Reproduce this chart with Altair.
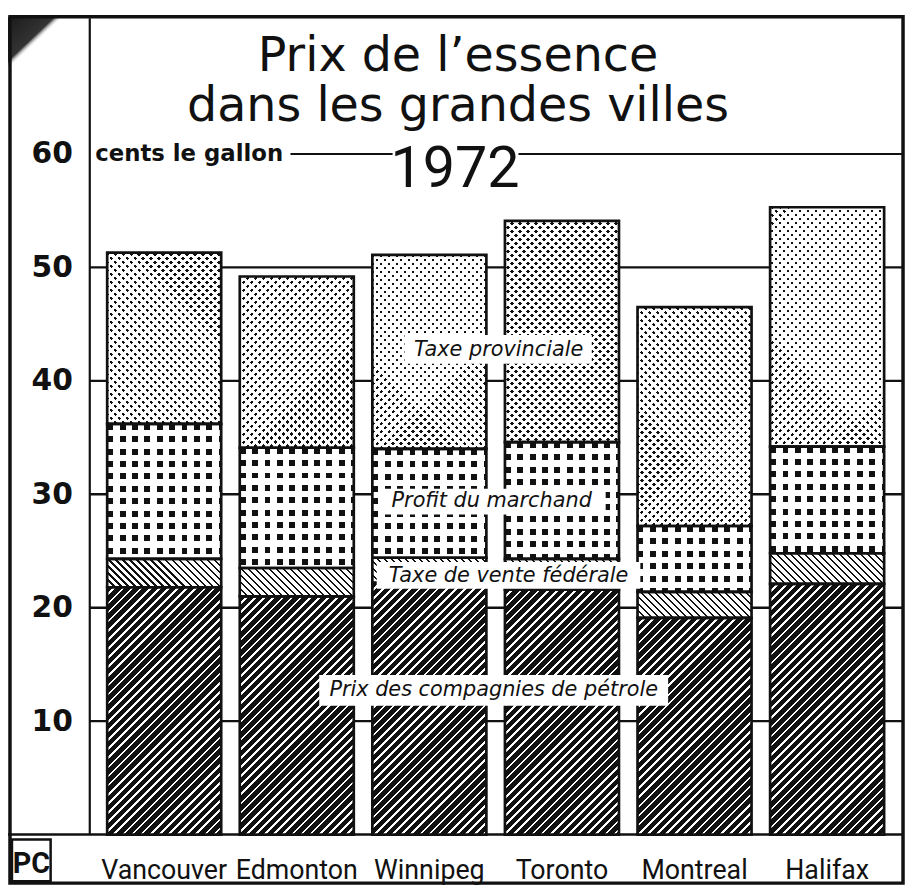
import math
import altair as alt

# ---------------- data ----------------
cities = ["Vancouver", "Edmonton", "Winnipeg", "Toronto", "Montreal", "Halifax"]
prix_compagnies = [21.8, 21.0, 22.2, 21.6, 19.1, 22.1]   # Prix des compagnies de pétrole
taxe_federale = [2.5, 2.5, 2.2, 2.7, 2.3, 2.7]           # Taxe de vente fédérale
profit_marchand = [11.9, 10.6, 9.6, 10.3, 5.8, 9.4]      # Profit du marchand
taxe_provinciale = [15.1, 15.1, 17.1, 19.5, 19.3, 21.1]  # Taxe provinciale
y_ticks = [10, 20, 30, 40, 50, 60]
grid_values = [10, 20, 30, 40, 50]

# ---------------- geometry ----------------
W, H = 820, 824
YMAX = 72
PAD_IN, PAD_OUT = 0.14, 0.135
PX = H / YMAX
STEP = W / (len(cities) - PAD_IN + 2 * PAD_OUT)
BW = STEP * (1 - PAD_IN)

INK = "#111111"
PAPER = "#ffffff"
CLEAR = "rgba(255,255,255,0)"
NARROW = "Roboto, 'Noto Sans', sans-serif"


def stripes(w, h, kind, period, ink, ink_w, paper):
    if kind == "h":
        x1, y1, x2, y2, L = 0, 0, 0, 1, h
    elif kind == "v":
        x1, y1, x2, y2, L = 0, 0, 1, 0, w
    else:
        k = (w + h) / (w * w + h * h)
        L = (w + h) / math.sqrt(2)
        if kind == "fw":
            x1, y1, x2, y2 = 0, 0, w * k, h * k
        else:
            x1, y1, x2, y2 = 0, 1, w * k, 1 - h * k
    stops = []
    j = 0
    while True:
        a = j * period / L
        if a >= 1:
            break
        b = min((j * period + ink_w) / L, 1)
        c = min((j + 1) * period / L, 1)
        for off, col in ((a, ink), (b, ink), (b, paper), (c, paper)):
            stops.append({"offset": round(off, 5), "color": col})
        j += 1
    return {"gradient": "linear", "x1": round(x1, 5), "y1": round(y1, 5),
            "x2": round(x2, 5), "y2": round(y2, 5), "stops": stops}


def pattern(name, w, h):
    if name == "compagnies":
        return stripes(w, h, "fw", 6.5, INK, 4.6, PAPER), CLEAR
    if name == "federale":
        return stripes(w, h, "bw", 5.0, INK, 1.5, PAPER), CLEAR
    if name == "marchand":
        return (stripes(w, h, "v", 12.5, INK, 6.0, PAPER),
                stripes(w, h, "h", 12.5, CLEAR, 6.0, PAPER))
    return (stripes(w, h, "fw", 5.7, INK, 2.6, PAPER),
            stripes(w, h, "bw", 5.7, CLEAR, 2.6, PAPER))


segments = [("compagnies", prix_compagnies), ("federale", taxe_federale),
            ("marchand", profit_marchand), ("provinciale", taxe_provinciale)]
rows = []
for i, c in enumerate(cities):
    base = 0.0
    for name, arr in segments:
        v = arr[i]
        lo, hi = base, base + v
        base = hi
        g1, g2 = pattern(name, BW, v * PX)
        rows.append({"city": c, "seg": name, "lo": round(lo, 3), "hi": round(hi, 3),
                     "g1": g1, "g2": g2})

one = alt.Data(values=[{}])
yscale = alt.Scale(domain=[0, YMAX], nice=False, zero=True)
yaxis = alt.Axis(values=y_ticks, title=None, grid=False, ticks=False, tickSize=0,
                 labelFont="DejaVu Sans", labelFontWeight="bold", labelFontSize=30,
                 labelColor="#111", labelPadding=17, domainColor="#111", domainWidth=2.2)
xaxis = alt.Axis(title=None, ticks=False, tickSize=0, domain=False, labelAngle=0,
                 labelFont=NARROW, labelFontSize=27, labelColor="#111",
                 labelBaseline="alphabetic", labelPadding=44)


def yenc(field):
    return alt.Y(field, type="quantitative", scale=yscale, axis=yaxis, stack=None)


xenc = alt.X("city:N", sort=cities,
             scale=alt.Scale(paddingInner=PAD_IN, paddingOuter=PAD_OUT), axis=xaxis)

# corner smudge of the scan
corner = alt.Chart(one).mark_rect(fill={
    "gradient": "linear", "x1": 0, "y1": 0, "x2": 1, "y2": 1,
    "stops": [{"offset": 0, "color": "#1a1a1a"}, {"offset": 0.42, "color": "#333"},
              {"offset": 0.5, "color": "rgba(255,255,255,0)"},
              {"offset": 1, "color": "rgba(255,255,255,0)"}]}).encode(
    x=alt.value(-82), x2=alt.value(-26), y=alt.value(-1), y2=alt.value(52))

grid = alt.Chart(alt.Data(values=[{"v": v} for v in grid_values])).mark_rule(
    color="#111", strokeWidth=2.4).encode(y=yenc("v"), x=alt.value(0), x2=alt.value(W + 2))

top_line = alt.Chart(alt.Data(values=[{"v": 60}]))
line60a = top_line.mark_rule(color="#111", strokeWidth=2).encode(
    y=yenc("v"), x=alt.value(203), x2=alt.value(306))
line60b = top_line.mark_rule(color="#111", strokeWidth=2).encode(
    y=yenc("v"), x=alt.value(433), x2=alt.value(W + 2))

bottom_line = alt.Chart(one).mark_rule(color="#111", strokeWidth=2.5).encode(
    y=alt.value(H), x=alt.value(-82), x2=alt.value(W + 2))

bars = alt.Chart(alt.Data(values=rows))
bar_base = bars.mark_bar(strokeWidth=0).encode(
    x=xenc, y=yenc("lo"), y2="hi:Q", fill=alt.Fill("g1:N", scale=None))
bar_over = bars.mark_bar(strokeWidth=0).encode(
    x=xenc, y=yenc("lo"), y2="hi:Q", fill=alt.Fill("g2:N", scale=None))
bar_line = bars.mark_bar(fillOpacity=0, stroke="#111", strokeWidth=2.7).encode(
    x=xenc, y=yenc("lo"), y2="hi:Q")


def box(x0, x1, y0, y1):
    return alt.Chart(one).mark_rect(fill="white").encode(
        x=alt.value(x0 - 90), x2=alt.value(x1 - 90), y=alt.value(y0 - 14), y2=alt.value(y1 - 14))


def label(text, x, y, **kw):
    return alt.Chart(one).mark_text(text=text, **kw).encode(
        x=alt.value(x - 90), y=alt.value(y - 14))


seg_font = dict(font="DejaVu Sans", fontStyle="italic", fontSize=21, color="#111",
                align="center", baseline="middle")
boxes = [
    box(408, 597, 334, 363),
    box(382, 611, 489, 515),
    box(380, 646, 563, 590),
    box(322, 674, 677, 708),
]
seg_labels = [
    label("Taxe provinciale", 503, 349, **seg_font),
    label("Profit du marchand", 496, 502, **seg_font),
    label("Taxe de vente fédérale", 513, 577, **seg_font),
    label("Prix des compagnies de pétrole", 498, 692, **seg_font),
]

title_font = dict(font="DejaVu Sans", fontSize=48, color="#111", align="center",
                  baseline="alphabetic")
titles = [
    label("Prix de l’essence", 462, 68, **title_font),
    label("dans les grandes villes", 462, 118, **title_font),
    label("1972", 459, 185, font=NARROW, fontSize=58, color="#111",
          align="center", baseline="alphabetic"),
    label("cents le gallon", 96, 158, font="DejaVu Sans", fontWeight="bold", fontSize=23,
          color="#111", align="left", baseline="alphabetic"),
]

logo_box = alt.Chart(one).mark_rect(fillOpacity=0, stroke="#111", strokeWidth=2.5).encode(
    x=alt.value(12 - 90), x2=alt.value(51 - 90), y=alt.value(843 - 14), y2=alt.value(885 - 14))
logo_txt = label("PC", 31.5, 877, font=NARROW, fontSize=29, fontWeight="bold", color="#111",
                 align="center", baseline="alphabetic")

frame = alt.Chart(one).mark_rect(fillOpacity=0, stroke="#111", strokeWidth=3.5).encode(
    x=alt.value(-80), x2=alt.value(W + 1), y=alt.value(-1), y2=alt.value(873))

chart = alt.layer(
    corner, grid, line60a, line60b, bottom_line,
    bar_base, bar_over, bar_line,
    *boxes, *seg_labels, *titles, logo_box, logo_txt, frame
).properties(
    width=W, height=H, autosize="none",
    padding={"left": 82, "top": 6, "right": 4, "bottom": 51},
    background="white",
).configure_view(stroke="transparent")

chart.save("out.html", embed_options={"renderer": "svg", "actions": False})
